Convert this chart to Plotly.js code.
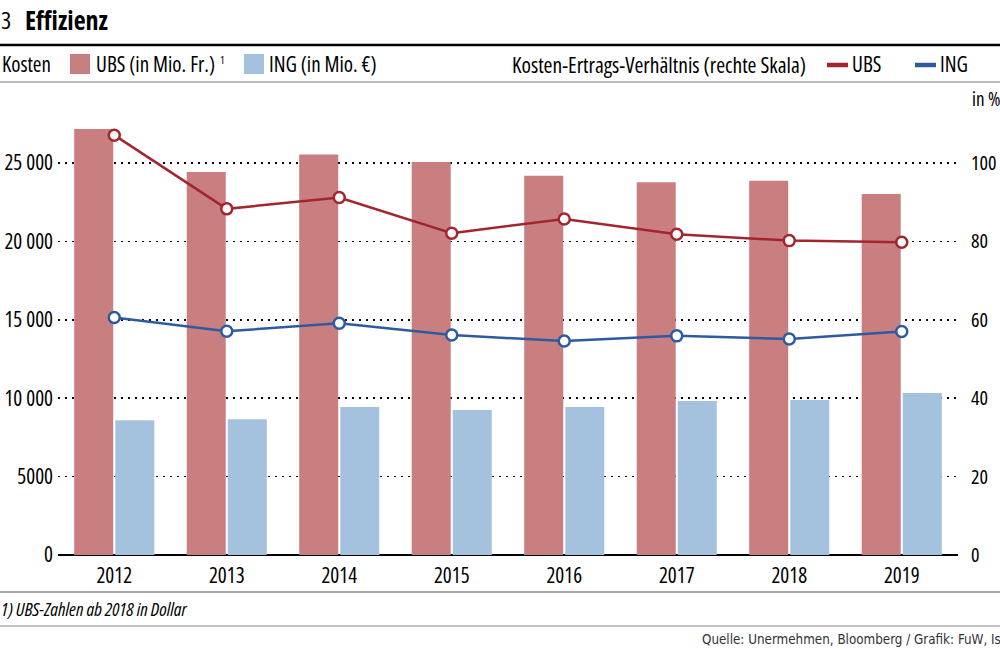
<!DOCTYPE html>
<html><head><meta charset="utf-8">
<script src="https://cdn.plot.ly/plotly-3.0.1.min.js"></script>
<style>html,body{margin:0;padding:0;background:#fff}#chart{width:1000px;height:649px}
text{font-stretch:condensed !important;}</style>
</head><body><div id="chart"></div>
<script>
const years = ['2012','2013','2014','2015','2016','2017','2018','2019'];
const ubsCost = [27170, 24430, 25550, 25060, 24190, 23770, 23870, 23020];
const ingCost = [8590, 8650, 9440, 9250, 9440, 9820, 9890, 10330];
const ubsRatio = [107.1, 88.3, 91.2, 82.1, 85.7, 81.8, 80.2, 79.8];
const ingRatio = [60.6, 57.1, 59.1, 56.1, 54.6, 55.9, 55.1, 57.0];
const leftTicks = [0, 5000, 10000, 15000, 20000, 25000];
const leftTickText = ['0', '5000', '10 000', '15 000', '20 000', '25 000'];
const rightTicks = [0, 20, 40, 60, 80, 100];

const W = 1000, H = 649;
const L = 58, R = 42, T = 100, B = 94;
const pw = W - L - R, ph = H - T - B;
const px = x => (x - L) / pw;
const py = y => (H - B - y) / ph;
const yMax = ph / 15.68 * 1000;
const FONT = '"Open Sans", sans-serif';

const ubsBarColor = '#c97e80', ingBarColor = '#a4c2de';
const ubsLine = '#a3262f', ingLine = '#2d5aa0';

const traces = [
  {type:'bar', x: years, y: ubsCost, name:'UBS', marker:{color: ubsBarColor}, yaxis:'y', hoverinfo:'skip'},
  {type:'bar', x: years, y: ingCost, name:'ING', marker:{color: ingBarColor}, yaxis:'y', hoverinfo:'skip'},
  {type:'scatter', mode:'lines+markers', x: years, y: ubsRatio, yaxis:'y2',
   line:{color: ubsLine, width:2.5}, marker:{size:11, color:'#fff', line:{color: ubsLine, width:2.5}}},
  {type:'scatter', mode:'lines+markers', x: years, y: ingRatio, yaxis:'y2',
   line:{color: ingLine, width:2.5}, marker:{size:11, color:'#fff', line:{color: ingLine, width:2.5}}}
];

const shapes = [
  {type:'line', xref:'paper', yref:'paper', x0: px(0), x1: px(1000), y0: py(45), y1: py(45), line:{color:'#000', width:2.5}},
  {type:'line', xref:'paper', yref:'paper', x0: px(0), x1: px(1000), y0: py(82), y1: py(82), line:{color:'#bdbdbd', width:2}},
  {type:'line', xref:'paper', yref:'paper', x0: px(0), x1: px(1000), y0: py(592), y1: py(592), line:{color:'#8a8a8a', width:1.5}},
  {type:'line', xref:'paper', yref:'paper', x0: px(0), x1: px(1000), y0: py(626), y1: py(626), line:{color:'#c4c4c4', width:2}},
  {type:'rect', xref:'paper', yref:'paper', x0: px(70), x1: px(90), y0: py(74), y1: py(54), fillcolor: ubsBarColor, line:{width:0}},
  {type:'rect', xref:'paper', yref:'paper', x0: px(244), x1: px(264), y0: py(74), y1: py(54), fillcolor: ingBarColor, line:{width:0}},
  {type:'line', xref:'paper', yref:'paper', x0: px(827), x1: px(848), y0: py(65), y1: py(65), line:{color: ubsLine, width:4.5}},
  {type:'line', xref:'paper', yref:'paper', x0: px(915), x1: px(936), y0: py(65), y1: py(65), line:{color: ingLine, width:4.5}}
];

function ann(text, x, y, size, opts) {
  return Object.assign({xref:'paper', yref:'paper', x: px(x), y: py(y), text: text, showarrow:false,
    xanchor:'left', yanchor:'middle', font:{family: FONT, size: size, color:'#000'}}, opts || {});
}

const annotations = [
  ann('3', -1, 20, 24),
  ann('<b>Effizienz</b>', 23, 20, 26),
  ann('Kosten', 0, 64, 21),
  ann('UBS (in Mio. Fr.)', 94, 64, 21),
  ann('1', 218, 59, 11),
  ann('ING (in Mio. €)', 267, 64, 21),
  ann('Kosten-Ertrags-Verhältnis (rechte Skala)', 510, 64, 21.5),
  ann('UBS', 850, 64, 21),
  ann('ING', 938, 64, 21),
  ann('in %', 1002, 99, 19, {xanchor:'right'}),
  ann('<i>1) UBS-Zahlen ab 2018 in Dollar</i>', -1, 608, 18.5),
  ann('Quelle: Unermehmen, Bloomberg / Grafik: FuW, Is', 1003, 639, 13.3,
      {xanchor:'right', font:{family:'"DejaVu Sans", sans-serif', size:13.3, color:'#333'}})
];

const layout = {
  width: W, height: H,
  margin: {l: L, r: R, t: T, b: B, pad: 0},
  paper_bgcolor:'#fff', plot_bgcolor:'#fff',
  showlegend: false,
  barmode:'group', bargap: 0.27, bargroupgap: 0.05,
  font: {family: FONT, size: 19, color:'#000'},
  xaxis: {type:'category', tickfont:{family: FONT, size: 21, color:'#000'}, showgrid:false,
          showline:false, zeroline:false, ticks:'', ticklabelstandoff: 6},
  yaxis: {range:[0, yMax], tickvals: leftTicks, ticktext: leftTickText, showgrid:true,
          gridcolor:'#000', gridwidth:1.6, griddash:'1.6px,5.4px', zeroline:true, zerolinecolor:'#000', zerolinewidth:2,
          showline:false, ticks:'', tickfont:{family: FONT, size: 21, color:'#000'}, ticklabelstandoff: 4},
  yaxis2: {range:[0, yMax/250], overlaying:'y', side:'right', tickvals: rightTicks, showgrid:false, zeroline:false,
           showline:false, ticks:'', tickfont:{family: FONT, size: 20, color:'#000'}, ticklabelstandoff: 12},
  shapes: shapes,
  annotations: annotations
};

Plotly.newPlot('chart', traces, layout, {staticPlot:true, displayModeBar:false});
</script>
</body></html>
